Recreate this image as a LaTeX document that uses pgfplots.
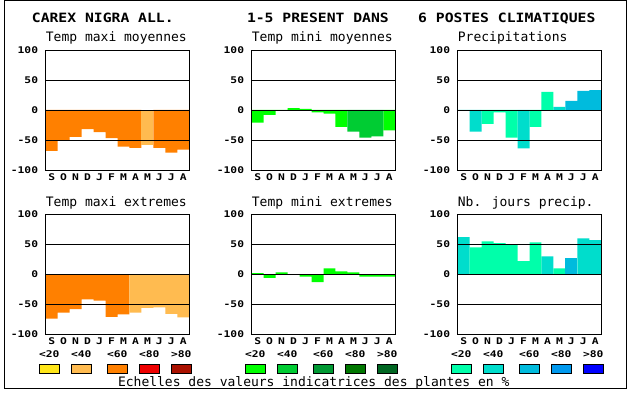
\documentclass[border=0pt]{standalone}
\usepackage{pgfplots}
\pgfplotsset{compat=1.18}
\usepackage{fontspec}
\newfontfamily\pixS[FakeStretch=1.23]{DejaVu Sans Mono}
\newfontfamily\pixT[FakeStretch=1.15]{DejaVu Sans Mono}
\newfontfamily\pixR{DejaVu Sans Mono}
\newcommand\tickfont{\pixS\bfseries\fontsize{9.2bp}{10bp}\selectfont}
\newcommand\titlefont{\pixT\bfseries\fontsize{12.8bp}{14bp}\selectfont}
\newcommand\subfont{\pixR\fontsize{13bp}{14bp}\selectfont}

\definecolor{cY}{HTML}{FFE619}
\definecolor{cLO}{HTML}{FFBB50}
\definecolor{cO}{HTML}{FF8000}
\definecolor{cR}{HTML}{EE0000}
\definecolor{cDR}{HTML}{AA1100}
\definecolor{g1}{HTML}{00FF00}
\definecolor{g2}{HTML}{00CC33}
\definecolor{g3}{HTML}{009933}
\definecolor{g4}{HTML}{007700}
\definecolor{g5}{HTML}{006622}
\definecolor{b1}{HTML}{00FFAA}
\definecolor{b2}{HTML}{00DDCC}
\definecolor{b3}{HTML}{00BBDD}
\definecolor{b4}{HTML}{0099EE}
\definecolor{b5}{HTML}{0000FF}

\pgfplotsset{
  panel/.style={
    scale only axis, width=143.6bp, height=120bp,
    anchor=south west,
    xmin=0, xmax=12, ymin=-100, ymax=100,
    ytick={-100,-50,0,50,100},
    yticklabels={-100,-50,0,50,100},
    xtick={0.5,1.5,2.5,3.5,4.5,5.5,6.5,7.5,8.5,9.5,10.5,11.5},
    xticklabels={S,O,N,D,J,F,M,A,M,J,J,A},
    major tick length=0pt,
    ymajorgrids,
    grid style={black, line width=0.9bp},
    axis line style={black, line width=0.9bp},
    axis on top,
    yticklabel style={font=\tickfont, anchor=east, inner sep=0pt, xshift=-7.4bp},
    xticklabel style={font=\tickfont, anchor=north, inner sep=0pt, yshift=-3.3bp},
  },
  bars/.style={ybar, bar width=1, bar shift=0pt, draw=none, fill=#1},
}

\newcommand\legendgroup[6]{%
  \foreach \dx/\cl/\lab in {3.6/#2/{<20}, 35.6/#3/{<40}, 71.6/#4/{<60}, 103.6/#5/{<80}, 135.6/#6/{>80}} {
    \node[anchor=base, inner sep=0pt, font=\tickfont] at ({(#1+\dx)*1bp}, 36.7bp) {\lab};
    \filldraw[fill=\cl, draw=black, line width=0.8bp] ({(#1+\dx-10)*1bp},20.7bp) rectangle ({(#1+\dx+10)*1bp},30bp);
  }}

\begin{document}
\begin{tikzpicture}
\path[use as bounding box] (0bp,0bp) rectangle (630bp,394bp);
\fill[white] (0bp,0bp) rectangle (630bp,394bp);
\draw[line width=1bp] (4bp,5bp) rectangle (626bp,393bp);

% titles
\node[anchor=base west, inner sep=0pt, font=\titlefont] at (31.7bp,371bp) {CAREX NIGRA ALL.};
\node[anchor=base west, inner sep=0pt, font=\titlefont] at (246.8bp,371bp) {1-5 PRESENT DANS};
\node[anchor=base west, inner sep=0pt, font=\titlefont] at (418bp,371bp) {6 POSTES CLIMATIQUES};

% subtitles
\node[anchor=base west, inner sep=0pt, font=\subfont] at (45.7bp,352.3bp) {Temp maxi moyennes};
\node[anchor=base west, inner sep=0pt, font=\subfont] at (251.7bp,352.3bp) {Temp mini moyennes};
\node[anchor=base west, inner sep=0pt, font=\subfont] at (457.7bp,352.3bp) {Precipitations};
\node[anchor=base west, inner sep=0pt, font=\subfont] at (45.7bp,187.3bp) {Temp maxi extremes};
\node[anchor=base west, inner sep=0pt, font=\subfont] at (251.7bp,187.3bp) {Temp mini extremes};
\node[anchor=base west, inner sep=0pt, font=\subfont] at (457.7bp,187.3bp) {Nb. jours precip.};

% Panel 1: Temp maxi moyennes
\begin{axis}[panel, at={(45.7bp,224bp)}]
\addplot[bars=cO] coordinates {(0.5,-68) (1.5,-50) (2.5,-45) (3.5,-32) (4.5,-37) (5.5,-47) (6.5,-61) (7.5,-63) (9.5,-63) (10.5,-71) (11.5,-66)};
\addplot[bars=cLO] coordinates {(8.5,-58)};
\end{axis}

% Panel 2: Temp mini moyennes
\begin{axis}[panel, at={(251.7bp,224bp)}]
\addplot[bars=g1] coordinates {(0.5,-21) (1.5,-8) (2.5,0) (3.5,3) (4.5,2) (5.5,-4) (6.5,-6) (7.5,-28) (11.5,-34)};
\addplot[bars=g2] coordinates {(8.5,-36) (9.5,-46) (10.5,-44)};
\end{axis}

% Panel 3: Precipitations
\begin{axis}[panel, at={(457.7bp,224bp)}]
\addplot[bars=b1] coordinates {(2.5,-23) (3.5,-4) (4.5,-46) (6.5,-28) (7.5,30)};
\addplot[bars=b2] coordinates {(0.5,0) (1.5,-36) (5.5,-64) (8.5,5)};
\addplot[bars=b3] coordinates {(9.5,15) (10.5,32) (11.5,33)};
\end{axis}

% Panel 4: Temp maxi extremes
\begin{axis}[panel, at={(45.7bp,59.7bp)}]
\addplot[bars=cO] coordinates {(0.5,-74) (1.5,-64) (2.5,-58) (3.5,-42) (4.5,-44) (5.5,-71) (6.5,-67)};
\addplot[bars=cLO] coordinates {(7.5,-64) (8.5,-56) (9.5,-55) (10.5,-66) (11.5,-72)};
\end{axis}

% Panel 5: Temp mini extremes
\begin{axis}[panel, at={(251.7bp,59.7bp)}]
\addplot[bars=g1] coordinates {(0.5,2) (1.5,-6) (2.5,3) (3.5,0) (4.5,-4) (5.5,-13) (6.5,10) (7.5,5) (8.5,3) (9.5,-4) (10.5,-4) (11.5,-4)};
\end{axis}

% Panel 6: Nb. jours precip.
\begin{axis}[panel, at={(457.7bp,59.7bp)}]
\addplot[bars=b2] coordinates {(0.5,62) (7.5,30) (10.5,60) (11.5,57)};
\addplot[bars=b1] coordinates {(1.5,45) (2.5,55) (3.5,52) (4.5,49) (5.5,22) (6.5,53) (8.5,10)};
\addplot[bars=b3] coordinates {(9.5,27)};
\end{axis}

% legend
\legendgroup{45.7}{cY}{cLO}{cO}{cR}{cDR}
\legendgroup{251.7}{g1}{g2}{g3}{g4}{g5}
\legendgroup{457.7}{b1}{b2}{b3}{b4}{b5}
\node[anchor=base, inner sep=0pt, font=\subfont] at (313.7bp,7.3bp) {Echelles des valeurs indicatrices des plantes en \%};
\end{tikzpicture}
\end{document}
